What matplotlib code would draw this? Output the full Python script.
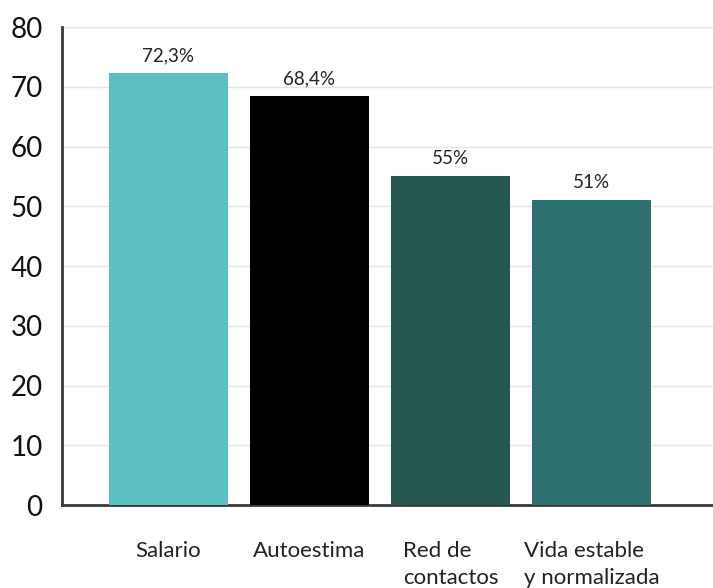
import numpy as np
import matplotlib.pyplot as plt

plt.rcParams['font.family'] = ['Lato', 'DejaVu Sans']

categorias = ['Salario', 'Autoestima', 'Red de\ncontactos', 'Vida estable\ny normalizada']
valores = [72.3, 68.4, 55, 51]
etiquetas = ['72,3%', '68,4%', '55%', '51%']
colores = ['#5bbfc4', '#000000', '#26574f', '#2c7070']

fig = plt.figure(figsize=(7.13, 5.88), dpi=100)
ax = fig.add_axes([0.087, 0.141, 0.913, 0.813])

x = np.arange(len(categorias))
bars = ax.bar(x, valores, width=0.844, color=colores, zorder=3)

for b, txt in zip(bars, etiquetas):
    ax.text(b.get_x() + b.get_width() / 2, b.get_height() + 1.5, txt,
            ha='center', va='bottom', fontsize=13.5, color='#222222')

ax.set_xlim(-0.755, 3.862)
ax.set_ylim(0, 80)
ax.set_yticks(np.arange(0, 81, 10))
ax.grid(axis='y', color='#e4e4e4', linewidth=1, zorder=0)

ax.set_xticks(x)
ax.set_xticklabels(categorias, fontsize=16, color='#222222', linespacing=1.45,
                   ha='center', multialignment='left', va='top')
ax.tick_params(axis='x', length=0, pad=26)
ax.tick_params(axis='y', length=0, pad=14, labelsize=20, labelcolor='#111111')

for s in ['top', 'right']:
    ax.spines[s].set_visible(False)
for s in ['left', 'bottom']:
    ax.spines[s].set_color('#3a3a3a')
    ax.spines[s].set_linewidth(2)

fig.savefig('out.png', dpi=100)
